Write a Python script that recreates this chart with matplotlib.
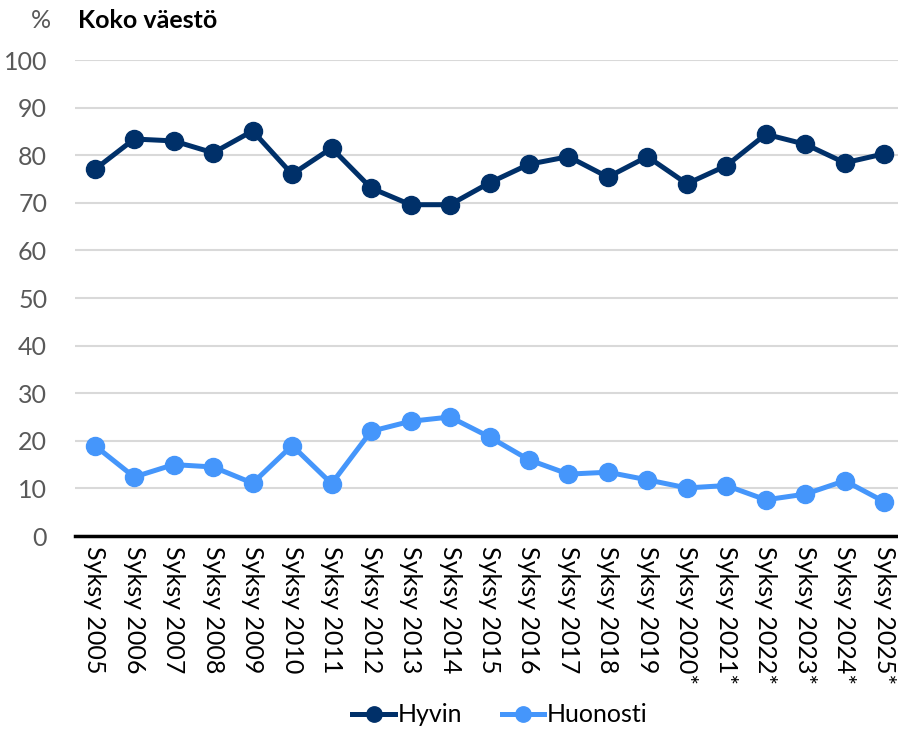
import matplotlib
matplotlib.use("Agg")
import matplotlib.pyplot as plt

plt.rcParams['font.family'] = ['Lato', 'DejaVu Sans']

# data
years = ['Syksy 2005', 'Syksy 2006', 'Syksy 2007', 'Syksy 2008', 'Syksy 2009',
         'Syksy 2010', 'Syksy 2011', 'Syksy 2012', 'Syksy 2013', 'Syksy 2014',
         'Syksy 2015', 'Syksy 2016', 'Syksy 2017', 'Syksy 2018', 'Syksy 2019',
         'Syksy 2020*', 'Syksy 2021*', 'Syksy 2022*', 'Syksy 2023*', 'Syksy 2024*',
         'Syksy 2025*']
hyvin = [77, 83.4, 83, 80.5, 85.1, 76, 81.5, 73.1, 69.6, 69.6,
         74.2, 78.1, 79.7, 75.4, 79.7, 74, 77.8, 84.4, 82.3, 78.4, 80.3]
huonosti = [19, 12.4, 15, 14.5, 11.1, 19, 11, 22, 24.1, 25,
            20.8, 16, 13, 13.4, 11.8, 10.1, 10.6, 7.6, 8.8, 11.6, 7.2]

dark = '#003069'
light = '#4596fb'

fig = plt.figure(figsize=(8.98, 7.31), dpi=100)
ax = fig.add_axes([75 / 898, 1 - 536 / 731, 829 / 898, 476 / 731])

x = range(len(years))
ax.plot(x, hyvin, color=dark, lw=3.6, marker='o', ms=13, label='Hyvin', zorder=3)
ax.plot(x, huonosti, color=light, lw=3.6, marker='o', ms=13, label='Huonosti', zorder=3)

ax.set_ylim(0, 100)
ax.set_xlim(-0.5, len(years) - 0.5)
ax.set_yticks(range(0, 101, 10))
ax.set_xticks(list(x))
ax.set_xticklabels(years, rotation=270, fontsize=18, color='black')
ax.tick_params(axis='y', labelsize=18, labelcolor='#595959', length=0, pad=20)
ax.tick_params(axis='x', length=0, pad=7)

ax.grid(axis='y', color='#d9d9d9', lw=1.5)
ax.set_axisbelow(True)
for s in ['top', 'right', 'left']:
    ax.spines[s].set_visible(False)
ax.spines['bottom'].set_linewidth(2.5)
ax.spines['bottom'].set_color('black')
ax.spines['bottom'].set_zorder(4)

fig.text(41 / 898, 1 - 21 / 731, '%', fontsize=18, color='#595959', ha='center', va='center')
fig.text(78 / 898, 1 - 21 / 731, 'Koko väestö', fontsize=18, fontweight='bold',
         color='black', ha='left', va='center')

fig.legend(loc='center', bbox_to_anchor=(500 / 898, 1 - 715 / 731), ncol=2,
           frameon=False, fontsize=18, handlelength=1.7, handletextpad=0.1,
           columnspacing=1.6, markerscale=0.85)

fig.savefig('out.png', dpi=100)
